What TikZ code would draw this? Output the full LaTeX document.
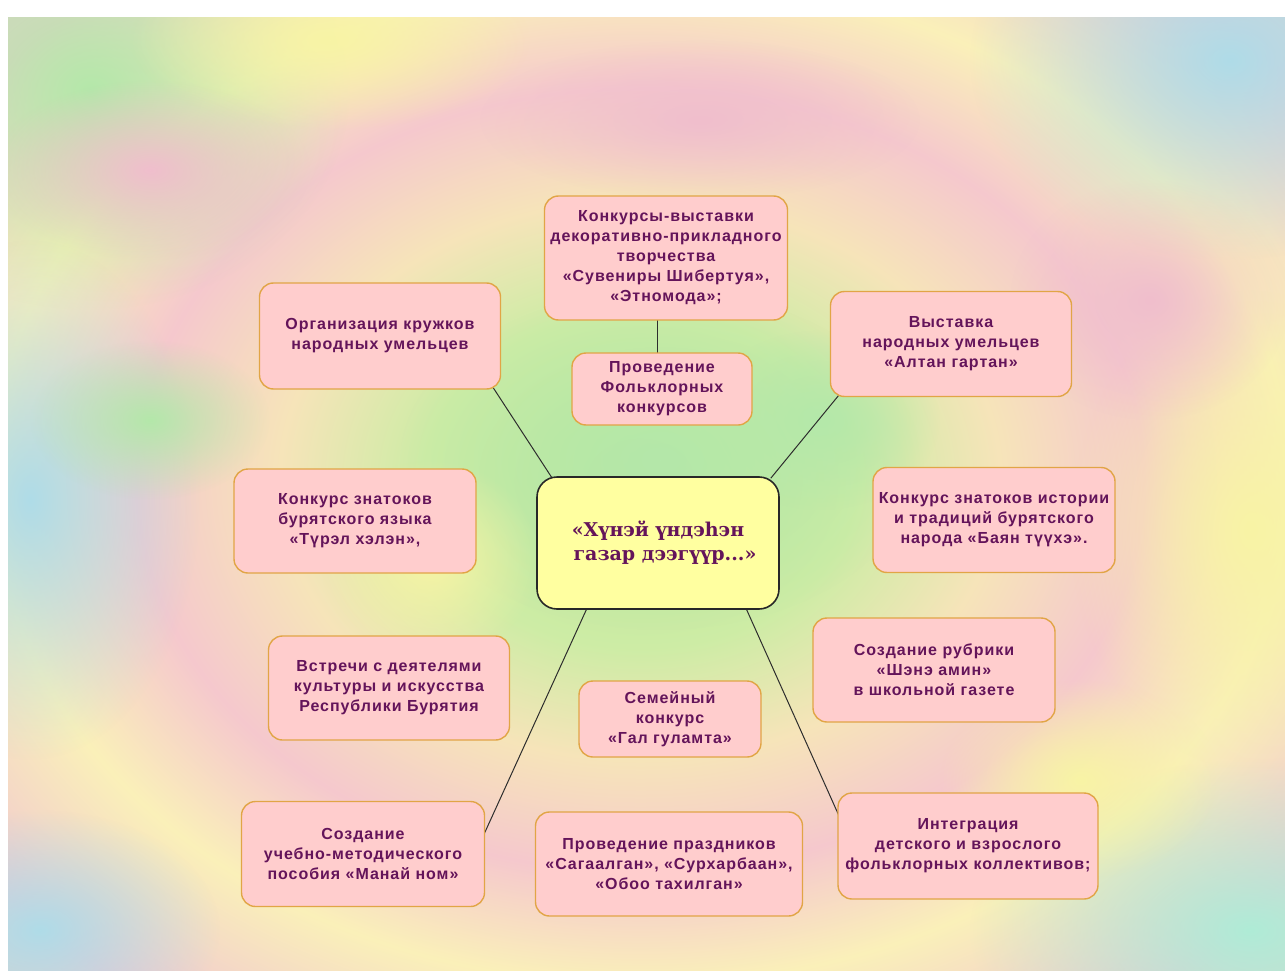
\documentclass[tikz,border=0pt]{standalone}
\usepackage{fontspec}
\setmainfont{Liberation Sans}
\newfontfamily\boxfont[LetterSpace=6]{Liberation Sans}
\newfontfamily\ctrfont{DejaVu Serif}
\usetikzlibrary{calc,fadings}
\definecolor{txt}{RGB}{100,20,90}
\definecolor{boxfill}{RGB}{255,205,205}
\definecolor{boxline}{RGB}{225,165,70}
\definecolor{ctrfill}{RGB}{255,255,160}
\definecolor{ctrline}{RGB}{40,40,40}
\definecolor{linec}{RGB}{45,45,45}
\definecolor{sA}{RGB}{185,230,155}
\definecolor{sB}{RGB}{205,236,165}
\definecolor{sC}{RGB}{246,228,185}
\definecolor{sD}{RGB}{245,200,205}
\definecolor{sE}{RGB}{250,240,185}
\definecolor{sF}{RGB}{240,198,208}
\definecolor{sG}{RGB}{200,228,200}
\definecolor{sH}{RGB}{180,222,230}
\definecolor{sI}{RGB}{240,240,182}
\definecolor{sJ}{RGB}{215,232,212}
\definecolor{bBlue}{RGB}{175,220,232}
\definecolor{bGreen}{RGB}{180,232,170}
\definecolor{bYellow}{RGB}{248,244,165}
\definecolor{bPink}{RGB}{240,190,205}
\definecolor{bCyan}{RGB}{175,236,215}
\pgfdeclareradialshading{swirl}{\pgfpoint{0bp}{0bp}}{color(0bp)=(sA); color(6bp)=(sB); color(10bp)=(sC); color(14bp)=(sD); color(18bp)=(sE); color(23bp)=(sF); color(28bp)=(sG); color(33bp)=(sH); color(40bp)=(sI); color(50bp)=(sJ)}
\tikzfading[name=soft, inner color=transparent!0, outer color=transparent!100]
\pgfdeclarelayer{back}
\pgfdeclarelayer{lines}
\pgfsetlayers{back,lines,main}
\tikzset{
  box/.style={draw=boxline, line width=1.4pt, fill=boxfill, rounded corners=14pt,
    inner sep=0pt, align=center, text=txt,
    font=\boxfont\bfseries\fontsize{16}{20}\selectfont},
  ctrbox/.style={draw=ctrline, line width=1.6pt, fill=ctrfill, rounded corners=20pt,
    inner sep=0pt, align=center, text=txt,
    font=\ctrfont\bfseries\fontsize{19}{24}\selectfont},
  link/.style={draw=linec, line width=1pt},
  blob/.style={fill=#1, path fading=soft}
}
\begin{document}
\begin{tikzpicture}[x=1pt,y=-1pt]
\useasboundingbox (0,0) rectangle (1285,971);
\begin{pgfonlayer}{back}
  \fill[white] (0,0) rectangle (1285,971);
  \begin{scope}
    \clip (8,18) rectangle (1285,971);
    \shade[shading=swirl] (-260,-220) rectangle (1540,1180);
    \fill[blob=bBlue] (1230,60) ellipse (260 and 200);
    \fill[blob=bGreen] (90,90) ellipse (260 and 220);
    \fill[blob=bYellow] (330,40) ellipse (200 and 90);
    \fill[blob=bBlue] (30,500) ellipse (170 and 260);
    \fill[blob=bYellow] (1250,530) ellipse (180 and 240);
    \fill[blob=bCyan] (1250,930) ellipse (280 and 170);
    \fill[blob=bBlue] (40,930) ellipse (180 and 120);
    \fill[blob=bPink] (150,170) ellipse (160 and 90);
    \fill[blob=bPink] (1150,300) ellipse (140 and 120);
    \fill[blob=bGreen] (820,420) ellipse (120 and 90);
    \fill[blob=bGreen] (660,460) ellipse (260 and 170);
    \fill[blob=bYellow] (430,560) ellipse (110 and 100);
    \fill[blob=bGreen] (150,420) ellipse (120 and 80);
    \fill[blob=bYellow] (1080,780) ellipse (140 and 100);
    \fill[blob=bPink] (700,120) ellipse (220 and 80);
  \end{scope}
\end{pgfonlayer}

\node[box, minimum width=243pt, minimum height=124pt] (k1) at (666,258)
  {Конкурсы-выставки\\декоративно-прикладного\\творчества\\«Сувениры Шибертуя»,\\«Этномода»;};
\node[box, minimum width=180pt, minimum height=72pt] (k2) at (662,389)
  {Проведение\\Фольклорных\\конкурсов};
\node[box, minimum width=241pt, minimum height=106pt] (org) at (380,336)
  {Организация кружков\\народных умельцев};
\node[box, minimum width=241pt, minimum height=105pt] (vys) at (951,344)
  {Выставка\\народных умельцев\\«Алтан гартан»};
\node[ctrbox, minimum width=242pt, minimum height=132pt] (ctr) at (658,543)
  {«Хүнэй үндэһэн\\\hspace*{14pt}газар дээгүүр...»};
\node[box, minimum width=242pt, minimum height=104pt] (tur) at (355,521)
  {Конкурс знатоков\\бурятского языка\\«Түрэл хэлэн»,};
\node[box, minimum width=242pt, minimum height=105pt] (bay) at (994,520)
  {Конкурс знатоков истории\\и традиций бурятского\\народа «Баян түүхэ».};
\node[box, minimum width=241pt, minimum height=104pt] (vst) at (389,688)
  {Встречи с деятелями\\культуры и искусства\\Республики Бурятия};
\node[box, minimum width=242pt, minimum height=104pt] (rub) at (934,670)
  {Создание рубрики\\«Шэнэ амин»\\в школьной газете};
\node[box, minimum width=182pt, minimum height=76pt] (sem) at (670,719)
  {Семейный\\конкурс\\«Гал гуламта»};
\node[box, minimum width=243pt, minimum height=105pt] (man) at (363,854)
  {Создание\\учебно-методического\\пособия «Манай ном»};
\node[box, minimum width=267pt, minimum height=104pt] (pra) at (669,864)
  {Проведение праздников\\«Сагаалган», «Сурхарбаан»,\\«Обоо тахилган»};
\node[box, minimum width=260pt, minimum height=106pt] (int) at (968,846)
  {Интеграция\\детского и взрослого\\фольклорных коллективов;};

\begin{pgfonlayer}{lines}
  \draw[link] ($(k1.south)+(-9pt,2pt)$) -- ($(k2.north)+(-5pt,-2pt)$);
  \draw[link] ($(org.south east)+(-8pt,2pt)$) -- ($(ctr.north west)+(16pt,-2pt)$);
  \draw[link] ($(vys.south west)+(9pt,2pt)$) -- ($(ctr.north east)+(-9pt,-2pt)$);
  \draw[link] ($(ctr.south west)+(51pt,2pt)$) -- ($(man.north east)+(-1pt,-33pt)$);
  \draw[link] ($(ctr.south east)+(-34pt,2pt)$) -- ($(int.north west)+(1pt,-22pt)$);
\end{pgfonlayer}
\end{tikzpicture}
\end{document}
